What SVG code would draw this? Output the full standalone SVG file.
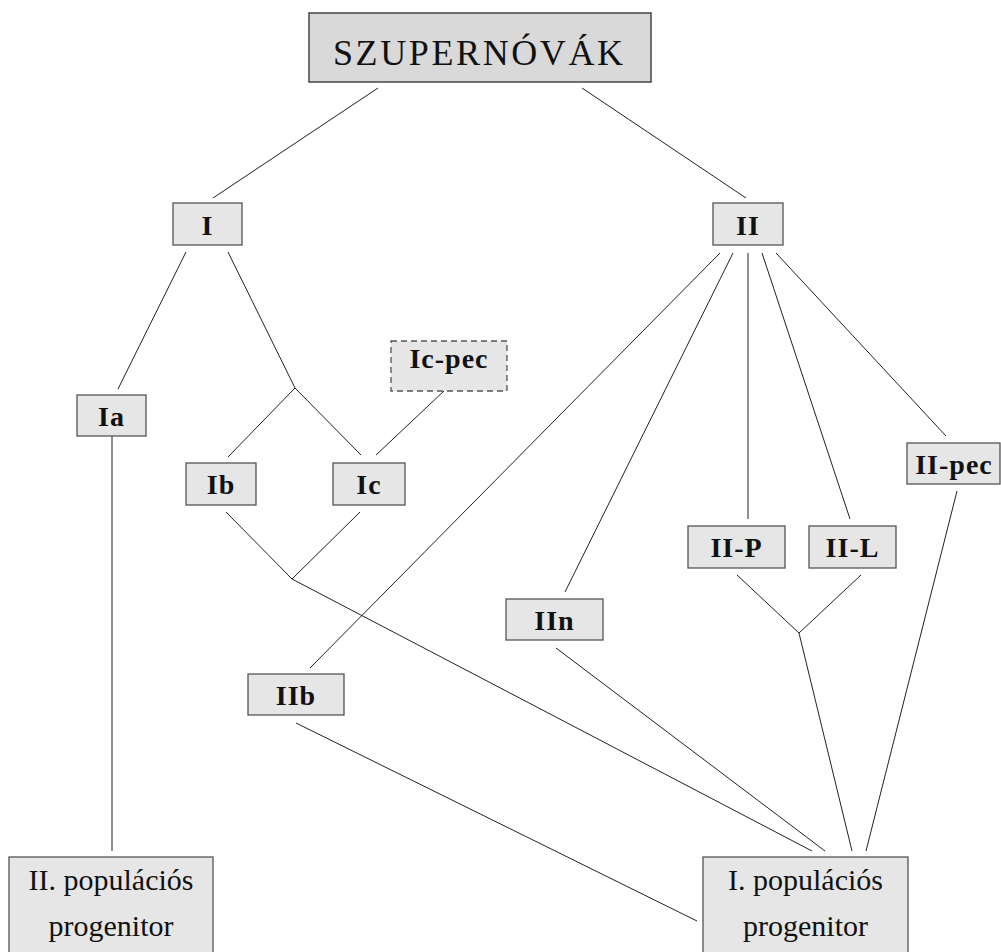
<svg xmlns="http://www.w3.org/2000/svg" width="1001" height="952" viewBox="0 0 1001 952">
<style>
.box{fill:#e6e6e6;stroke:#555;stroke-width:1.3}
.title{fill:#d9d9d9;stroke:#444;stroke-width:1.5}
.lbl{font-family:"Liberation Serif","DejaVu Serif",serif;font-weight:bold;font-size:28px;letter-spacing:1px;text-anchor:middle;fill:#111}
.reg{font-family:"Liberation Serif","DejaVu Serif",serif;font-size:30px;text-anchor:middle;fill:#111}
.dash{stroke-dasharray:6 4}
#connectors line{stroke:#222;stroke-width:1}
</style>
<rect width="1001" height="952" fill="#fff"/>
<g id="connectors">
<line x1="378" y1="88" x2="213" y2="198"/>
<line x1="582" y1="88" x2="746" y2="198"/>
<line x1="186" y1="252" x2="118" y2="389"/>
<line x1="228" y1="252" x2="295" y2="388"/>
<line x1="295" y1="388" x2="228" y2="457"/>
<line x1="295" y1="388" x2="361" y2="455"/>
<line x1="445" y1="390" x2="376" y2="455"/>
<line x1="112" y1="415" x2="112" y2="851"/>
<line x1="226" y1="512" x2="292" y2="579"/>
<line x1="360" y1="512" x2="292" y2="579"/>
<line x1="292" y1="579" x2="812" y2="851"/>
<line x1="720" y1="253" x2="310" y2="668"/>
<line x1="733" y1="253" x2="565" y2="592"/>
<line x1="748" y1="253" x2="748" y2="519"/>
<line x1="762" y1="253" x2="850" y2="519"/>
<line x1="776" y1="253" x2="946" y2="436"/>
<line x1="737" y1="575" x2="799" y2="633"/>
<line x1="861" y1="575" x2="799" y2="633"/>
<line x1="799" y1="633" x2="852" y2="851"/>
<line x1="556" y1="648" x2="825" y2="851"/>
<line x1="957" y1="491" x2="866" y2="851"/>
<line x1="296" y1="723" x2="697" y2="921"/>
</g>
<g id="n-title"><rect class="title" x="309" y="13" width="342" height="69"/><text x="478" y="65" font-family="Liberation Serif,DejaVu Serif,serif" font-size="36" text-anchor="middle" fill="#111" textLength="290" lengthAdjust="spacing">SZUPERNÓVÁK</text></g>
<g id="n-I"><rect class="box" x="173" y="203" width="69" height="42"/><text class="lbl" x="207.5" y="235">I</text></g>
<g id="n-II"><rect class="box" x="713" y="203" width="70" height="42"/><text class="lbl" x="748" y="235">II</text></g>
<g id="n-Icpec"><rect class="box dash" x="391" y="341" width="116" height="50"/><text class="lbl" x="449" y="368">Ic-pec</text></g>
<g id="n-Ia"><rect class="box" x="77" y="395" width="69" height="41"/><text class="lbl" x="111.5" y="426">Ia</text></g>
<g id="n-Ib"><rect class="box" x="186" y="463" width="70" height="42"/><text class="lbl" x="221" y="494">Ib</text></g>
<g id="n-Ic"><rect class="box" x="333" y="463" width="72" height="42"/><text class="lbl" x="369" y="494">Ic</text></g>
<g id="n-IIpec"><rect class="box" x="907" y="443" width="93" height="41"/><text class="lbl" x="954" y="474">II-pec</text></g>
<g id="n-IIP"><rect class="box" x="688" y="526" width="97" height="42"/><text class="lbl" x="736.5" y="557">II-P</text></g>
<g id="n-IIL"><rect class="box" x="809" y="526" width="87" height="42"/><text class="lbl" x="852.5" y="557">II-L</text></g>
<g id="n-IIn"><rect class="box" x="506" y="599" width="97" height="41"/><text class="lbl" x="554.5" y="630">IIn</text></g>
<g id="n-IIb"><rect class="box" x="248" y="674" width="96" height="41"/><text class="lbl" x="296" y="705">IIb</text></g>
<g id="n-IIpop"><rect class="box" x="9" y="857" width="204" height="100"/><text class="reg" x="111" y="890">II. populációs</text><text class="reg" x="111" y="936">progenitor</text></g>
<g id="n-Ipop"><rect class="box" x="703" y="857" width="205" height="100"/><text class="reg" x="805.5" y="890">I. populációs</text><text class="reg" x="805.5" y="936">progenitor</text></g>
</svg>
